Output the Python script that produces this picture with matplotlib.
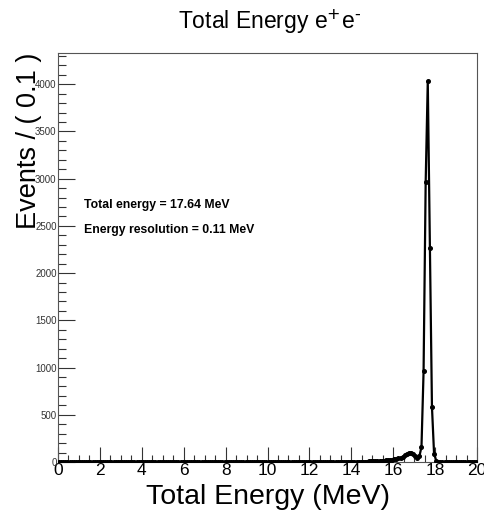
import matplotlib
matplotlib.use("Agg")
import matplotlib.pyplot as plt
import numpy as np
from matplotlib.ticker import MultipleLocator

plt.rcParams["font.family"] = ["Liberation Sans", "DejaVu Sans"]

# histogram of the total energy, 0.1 MeV bins from 0 to 20 MeV
bin_width = 0.1
bin_centers = np.arange(200) * bin_width + 0.05
counts_low = [0] * 140  # 0 - 14 MeV: empty
counts_tail = [
    2, 2, 3, 3, 4, 4, 5, 5, 6, 7,            # 14.0 - 15.0
    8, 9, 10, 11, 12, 14, 16, 18, 20, 24,    # 15.0 - 16.0
    28, 32, 38, 45, 55, 70, 85, 95, 100, 90, # 16.0 - 17.0
    65, 45, 60, 160, 960, 2960, 4030, 2270, 585, 90,  # 17.0 - 18.0
    15, 3, 1, 0, 0, 0, 0, 0, 0, 0,           # 18.0 - 19.0
    0, 0, 0, 0, 0, 0, 0, 0, 0, 0,            # 19.0 - 20.0
]
counts = np.array(counts_low + counts_tail)

mean_energy = 17.64
resolution = 0.11

fig = plt.figure(figsize=(4.85, 5.15), dpi=100)
ax = fig.add_axes([0.1196, 0.1029, 0.8639, 0.7941])

ax.plot(bin_centers, counts, color="black", linewidth=1.6,
        marker="o", markersize=2.6, zorder=3)

ax.set_xlim(0, 20)
ax.set_ylim(0, 4330)

ax.xaxis.set_major_locator(MultipleLocator(2))
ax.xaxis.set_minor_locator(MultipleLocator(0.5))
ax.yaxis.set_major_locator(MultipleLocator(500))
ax.yaxis.set_minor_locator(MultipleLocator(100))

ax.tick_params(axis="both", which="both", direction="in", top=False, right=False,
               color="#333333")
ax.tick_params(axis="x", which="major", length=11, width=0.8, labelsize=12.5, pad=1)
ax.tick_params(axis="x", which="minor", length=5, width=0.8)
ax.tick_params(axis="y", which="major", length=12, width=0.8, labelsize=7,
               pad=1, labelcolor="#333333")
ax.tick_params(axis="y", which="minor", length=6, width=0.8)

for spine in ax.spines.values():
    spine.set_color("#555555")
    spine.set_linewidth(0.8)

ax.set_xlabel("Total Energy (MeV)", fontsize=20.5, labelpad=4)
ax.set_ylabel("Events / ( 0.1 )", fontsize=19.5, loc="top")
ax.yaxis.set_label_coords(-0.038, 1.0)

ax.text(0.062, 0.629, "Total energy = %.2f MeV" % mean_energy,
        transform=ax.transAxes, fontsize=8.8, fontweight="bold", va="center")
ax.text(0.062, 0.567, "Energy resolution = %.2f MeV" % resolution,
        transform=ax.transAxes, fontsize=8.8, fontweight="bold", va="center")

fig.text(0.555, 0.958, r"Total Energy e$^{+}$e$^{\text{-}}$", fontsize=16.5,
         ha="center", va="center")

fig.savefig("out.png", dpi=100)
